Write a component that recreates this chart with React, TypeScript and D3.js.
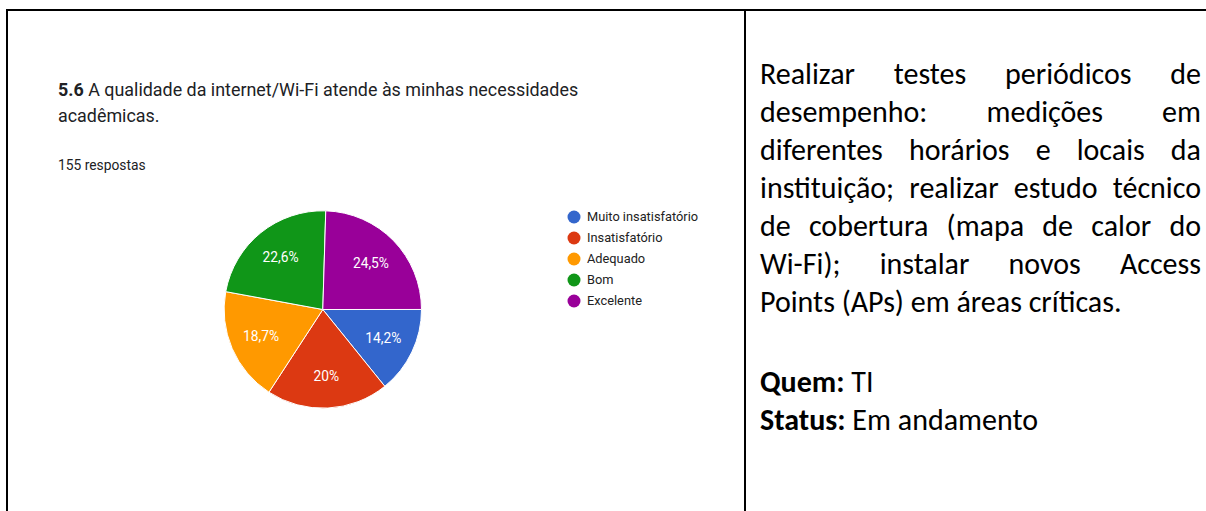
import React, { useLayoutEffect, useMemo } from "react";
import * as d3 from "d3";

// survey answers (155 respostas)
const categories = ["Muito insatisfatório", "Insatisfatório", "Adequado", "Bom", "Excelente"];
const counts = [22, 31, 29, 35, 38];
const sliceLabels = ["14,2%", "20%", "18,7%", "22,6%", "24,5%"];
const colors = ["#3366cc", "#dc3912", "#ff9900", "#109618", "#990099"];

const titleNumber = "5.6";
const titleLines = ["A qualidade da internet/Wi-Fi atende às minhas necessidades", "acadêmicas."];
const responsesText = "155 respostas";

// right cell: justified paragraph, last line left aligned
const actionLines = [
  "Realizar testes periódicos de",
  "desempenho: medições em",
  "diferentes horários e locais da",
  "instituição; realizar estudo técnico",
  "de cobertura (mapa de calor do",
  "Wi-Fi); instalar novos Access",
  "Points (APs) em áreas críticas.",
];
const whoLabel = "Quem:";
const whoValue = "TI";
const statusLabel = "Status:";
const statusValue = "Em andamento";

const W = 1206;
const H = 511;
const rightFont = "Carlito, Lato, sans-serif";

export default function App() {
  useLayoutEffect(() => {
    document.body.style.margin = "0";
  }, []);

  // pie geometry
  const cx = 322.8;
  const cy = 309.5;
  const R = 98.7;
  const total = d3.sum(counts);
  const start = 0.03 + (2 * Math.PI * counts[counts.length - 1]) / total;
  const arcs = d3.pie<number>().sort(null).startAngle(start).endAngle(start + 2 * Math.PI)(counts);
  const arc = d3.arc<d3.PieArcDatum<number>>().innerRadius(0).outerRadius(R);
  const labelArc = d3.arc<d3.PieArcDatum<number>>().innerRadius(R * 0.68).outerRadius(R * 0.68);

  const legendY = d3.scalePoint<string>().domain(categories).range([217, 301]);

  // right text layout: measure words and justify
  const x0 = 760;
  const x1 = 1201;
  const layout = useMemo(() => {
    const ctx = document.createElement("canvas").getContext("2d")!;
    ctx.font = `100px ${rightFont}`;
    const tight = ctx.measureText(actionLines[3]).width;
    const size = Math.min(30, (100 * (x1 - x0)) / tight);
    ctx.font = `${size}px ${rightFont}`;
    const space = ctx.measureText(" ").width;
    const lines = actionLines.map((line, i) => {
      const words = line.split(" ");
      const ws = words.map((w) => ctx.measureText(w).width);
      const last = i === actionLines.length - 1;
      const gap = last ? space : (x1 - x0 - d3.sum(ws)) / (words.length - 1);
      let x = x0;
      return words.map((w, j) => {
        const pos = x;
        x += ws[j] + gap;
        return { w, x: pos };
      });
    });
    return { size, lines };
  }, []);

  const lineY = d3.scaleLinear().domain([0, 1]).range([84, 122]);

  return (
    <svg width={W} height={H} style={{ display: "block", background: "#fff" }}>
      {/* table borders */}
      <line x1={6} x2={W} y1={10} y2={10} stroke="#000" strokeWidth={2} />
      <line x1={7} x2={7} y1={9} y2={H} stroke="#000" strokeWidth={2} />
      <line x1={745} x2={745} y1={9} y2={H} stroke="#000" strokeWidth={2} />

      {/* forms chart */}
      <g fontFamily="Roboto, Arial, sans-serif" fill="#202124">
        <text x={58} y={96} fontSize={17.9}>
          <tspan fontWeight="bold">{titleNumber}</tspan> {titleLines[0]}
        </text>
        <text x={58} y={122} fontSize={17.9}>{titleLines[1]}</text>
        <text x={58} y={170} fontSize={13.8}>{responsesText}</text>
      </g>

      <g transform={`translate(${cx},${cy})`}>
        {arcs.map((d, i) => (
          <path key={i} d={arc(d)!} fill={colors[i]} stroke="#fff" strokeWidth={1} />
        ))}
        {arcs.map((d, i) => {
          const [lx, ly] = labelArc.centroid(d);
          return (
            <text key={i} x={lx} y={ly} dy="0.35em" textAnchor="middle" fill="#fff"
              fontFamily="Roboto, Arial, sans-serif" fontSize={13.8}>
              {sliceLabels[i]}
            </text>
          );
        })}
      </g>

      <g fontFamily="Roboto, Arial, sans-serif" fontSize={12.8} fill="#222">
        {categories.map((c, i) => (
          <g key={c} transform={`translate(574,${legendY(c)})`}>
            <circle r={6.5} fill={colors[i]} />
            <text x={13} dy="0.35em">{c}</text>
          </g>
        ))}
      </g>

      {/* right cell text */}
      <g fontFamily={rightFont} fontSize={layout.size} fill="#000">
        {layout.lines.map((words, i) =>
          words.map((w, j) => (
            <text key={`${i}-${j}`} x={w.x} y={lineY(i)}>{w.w}</text>
          ))
        )}
        <text x={x0} y={392}>
          <tspan fontWeight="bold">{whoLabel}</tspan> {whoValue}
        </text>
        <text x={x0} y={430}>
          <tspan fontWeight="bold">{statusLabel}</tspan> {statusValue}
        </text>
      </g>
    </svg>
  );
}
